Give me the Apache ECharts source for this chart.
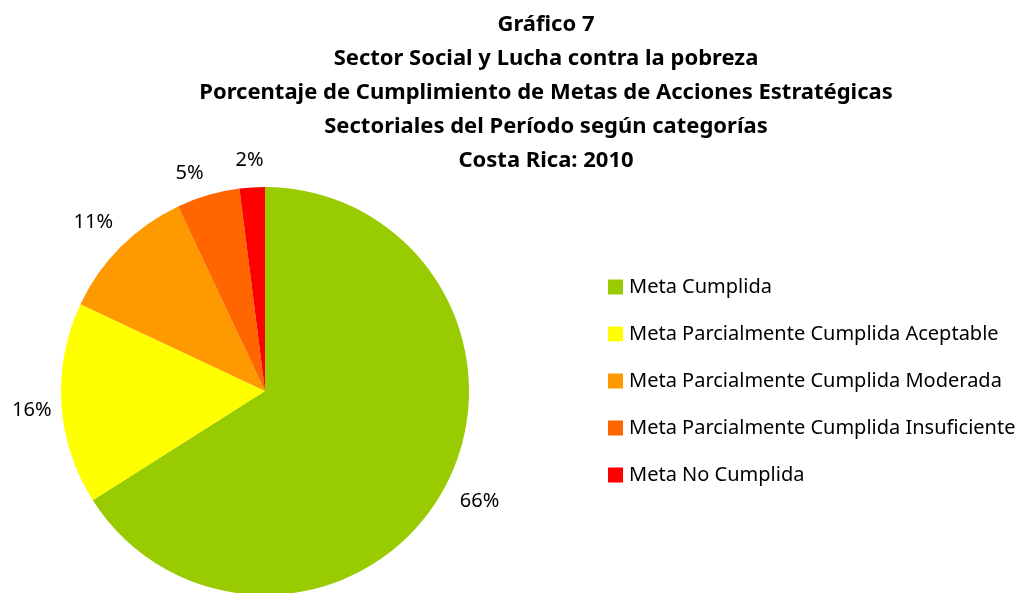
<!DOCTYPE html>
<html>
<head>
<meta charset="utf-8">
<script src="https://cdn.jsdelivr.net/npm/echarts@6/dist/echarts.min.js"></script>
<style>
  html, body { margin: 0; padding: 0; background: #fff; }
  #main { width: 1017px; height: 593px; }
</style>
</head>
<body>
<div id="main"></div>
<script>
// categorias y porcentajes
const categorias = [
  'Meta Cumplida',
  'Meta Parcialmente Cumplida Aceptable',
  'Meta Parcialmente Cumplida Moderada',
  'Meta Parcialmente Cumplida Insuficiente',
  'Meta No Cumplida'
];
const valores = [66, 16, 11, 5, 2];
const colores = ['#99CC00', '#FFFF00', '#FF9900', '#FF6600', '#FF0000'];

const titulo = [
  'Gráfico 7',
  'Sector Social y Lucha contra la pobreza',
  'Porcentaje de Cumplimiento de Metas de Acciones Estratégicas',
  'Sectoriales del Período según categorías',
  'Costa Rica: 2010'
];

// distancia de cada etiqueta al borde (como en Excel, sin lineas guia)
const etiquetaLargo = [24, 100, 35, 23, 27];
const etiquetaLargo2 = [-10, -95, -22, -7, -18];

const chart = echarts.init(document.getElementById('main'));

const option = {
  backgroundColor: '#fff',
  color: colores,
  title: {
    text: titulo.join('\n'),
    left: 541,
    textAlign: 'center',
    top: 3,
    textStyle: {
      fontFamily: 'Noto Sans',
      fontWeight: 'bold',
      fontSize: 22,
      lineHeight: 34,
      color: '#000'
    }
  },
  legend: {
    orient: 'vertical',
    left: 603,
    top: 272,
    itemWidth: 15,
    itemHeight: 15,
    itemGap: 27,
    icon: 'rect',
    textStyle: {
      fontFamily: 'Noto Sans',
      fontSize: 20,
      lineHeight: 20,
      color: '#000',
      padding: [0, 0, 0, 1]
    },
    data: categorias
  },
  series: [
    {
      type: 'pie',
      center: [265, 391],
      radius: 204,
      startAngle: 90,
      clockwise: true,
      avoidLabelOverlap: false,
      animation: false,
      label: {
        show: true,
        position: 'outside',
        formatter: '{d}%',
        fontFamily: 'Noto Sans',
        fontSize: 20,
        color: '#000'
      },
      labelLine: { show: false },
      itemStyle: { borderWidth: 0 },
      emphasis: { disabled: true },
      data: categorias.map((c, i) => ({
        name: c,
        value: valores[i],
        labelLine: { show: false, length: etiquetaLargo[i], length2: etiquetaLargo2[i] }
      }))
    }
  ]
};

chart.setOption(option);
</script>
</body>
</html>
